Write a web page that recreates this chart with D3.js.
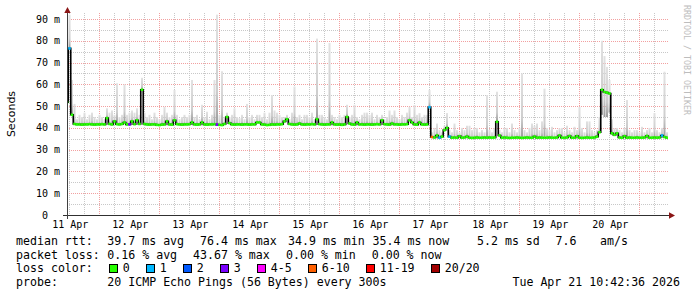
<!DOCTYPE html>
<html>
<head>
<meta charset="utf-8">
<title>Smokeping median rtt</title>
<script src="https://d3js.org/d3.v7.min.js"></script>
<style>
  body { margin: 0; background: #fff; }
  text { font-family: "DejaVu Sans Mono", monospace; fill: #000; }
</style>
</head>
<body>
<div id="main"></div>
<script>
// one sample per hour, first sample at t0
const t0 = new Date(2026, 3, 10, 23, 5)
const hoursShown = 240.4

// median rtt in ms, hourly
const median = [
  51.8, 76.5, 46.0, 41.8, 41.6, 41.6, 41.5, 41.6, 41.6, 41.7, 41.6, 41.5, 41.6, 41.6, 41.7, 41.6, 44.5, 41.8, 41.6, 43.0, 41.7, 41.6, 41.8, 42.5,
  41.6, 41.6, 43.0, 41.7, 43.5, 41.8, 57.5, 41.8, 41.6, 41.5, 41.6, 41.6, 41.4, 41.3, 41.5, 41.6, 43.0, 41.6, 41.5, 43.5, 41.7, 41.6, 41.5, 41.6,
  41.6, 41.7, 42.5, 41.6, 41.5, 41.6, 42.5, 41.6, 41.5, 41.6, 41.6, 41.7, 41.5, 41.4, 41.3, 41.8, 45.0, 42.2, 41.6, 41.5, 41.6, 41.6, 41.5, 41.6,
  41.6, 41.5, 41.6, 41.6, 42.5, 42.5, 41.6, 41.5, 41.3, 41.4, 41.6, 41.5, 41.6, 41.6, 41.7, 43.0, 44.0, 41.8, 41.6, 41.5, 41.6, 42.0, 41.6, 41.5,
  41.6, 41.6, 41.7, 41.6, 44.0, 41.7, 41.6, 41.5, 41.6, 41.6, 42.5, 41.6, 41.5, 41.6, 41.4, 41.6, 45.0, 42.0, 41.6, 41.5, 42.5, 41.6, 41.6, 41.5,
  41.6, 41.6, 41.5, 41.6, 41.7, 41.6, 43.5, 41.7, 41.6, 41.5, 42.0, 41.6, 41.6, 41.5, 41.6, 41.6, 41.7, 43.5, 42.5, 41.6, 41.5, 42.5, 41.6, 41.5,
  41.6, 49.5, 35.8, 35.6, 36.5, 35.5, 36.0, 39.0, 40.0, 36.0, 35.5, 35.6, 35.5, 36.2, 35.5, 35.6, 36.0, 35.5, 35.4, 35.5, 35.6, 35.5, 35.5, 35.6,
  35.5, 35.6, 35.5, 35.6, 42.8, 36.5, 35.5, 35.6, 35.5, 35.4, 35.5, 35.5, 35.6, 35.5, 35.4, 35.5, 35.6, 35.5, 35.5, 36.0, 35.5, 35.6, 35.5, 35.5,
  35.5, 35.6, 35.5, 35.5, 35.6, 36.5, 35.5, 35.5, 35.6, 36.3, 35.5, 35.5, 36.2, 35.5, 35.4, 35.5, 35.6, 35.5, 35.5, 35.6, 36.0, 38.0, 57.5, 56.5,
  56.2, 55.8, 37.5, 36.8, 37.5, 35.6, 35.5, 36.2, 35.5, 35.6, 35.5, 35.5, 35.6, 35.5, 35.5, 35.6, 36.3, 35.5, 35.5, 35.6, 35.5, 35.6, 36.5, 35.8,
  35.5
]

// slowest ping of each hour (top of the smoke), ms
const smokeTop = [
  85, 92, 62, 51, 44, 46, 45, 47, 44, 46, 47, 45, 44, 46, 45, 44, 49, 47, 48, 46, 60.5, 45, 46, 60,
  46, 47, 48, 47, 49, 46, 63, 47, 45, 46, 44, 47, 45, 44, 46, 49.7, 47, 45, 46, 57.4, 46, 44, 45, 46,
  45, 46, 62, 45, 46, 44, 50.6, 45, 47.4, 44, 46, 62, 92, 46, 66, 45, 47, 45, 46, 49, 45, 44.5, 46, 44,
  51, 45, 46, 44, 46, 46, 45, 47, 44, 47, 55, 48, 47, 46, 45, 45, 46, 44, 47, 59, 45, 46, 44, 46,
  46, 45, 47, 44, 81, 46, 46, 45, 44, 79, 46, 45, 44, 46, 45, 46, 50.6, 45, 46, 50.6, 45, 44, 46, 47,
  47, 46, 47, 44, 46, 45, 46, 44, 45, 48, 46, 48, 45, 44, 46, 45, 47, 49.7, 45, 50.5, 46, 46.8, 45, 46,
  46, 57.4, 38, 40, 42, 39, 38, 41, 46.8, 39, 38, 42, 39, 38, 40, 39, 41, 41, 39, 40, 40, 38, 39, 38,
  55, 39, 38, 40, 56.6, 39, 38, 40, 40, 38, 42, 39, 38, 40, 65, 39, 38, 40, 42, 41, 42, 39, 43, 58,
  40, 39, 40.5, 38, 39, 39.8, 40, 38, 41, 39, 38, 40.5, 39, 49.7, 40, 38, 43, 43, 39, 38, 39, 45, 80, 73,
  68, 62, 44, 39.8, 40, 39, 38, 40, 52.8, 39, 38, 39, 39, 38, 40.5, 38, 39, 40, 38, 46.8, 39, 38, 40, 65.8,
  38
]

// hours where the fastest ping sat well below the median: [hour, ms]
const smokeLow = [[214, 46], [215, 45], [216, 45], [217, 47]]

// hours with lost pings: [hour, pings lost of 20]
const lossEvents = [[1, 1], [25, 3], [60, 3], [145, 1], [146, 8], [149, 1], [153, 1], [238, 1]]

const lossBins = [1, 2, 3, 4, 6, 11, 20]
const lossLabels = ['0', '1', '2', '3', '4-5', '6-10', '11-19', '20/20']
const lossColours = ['#26ff00', '#00b8ff', '#0059ff', '#7a00ff', '#ff00ff', '#ff6000', '#ff0000', '#a10000']

const yTicks = [0, 10, 20, 30, 40, 50, 60, 70, 80, 90]
const yMinor = [5, 15, 25, 35, 45, 55, 65, 75, 85]

const rttRow = [['median rtt:', 16], ['39.7 ms avg', 107.3], ['76.4 ms max', 200], ['34.9 ms min', 288],
                ['35.4 ms now', 372.5], ['5.2 ms sd', 477], ['7.6', 555.5], ['am/s', 600]]
const lossRow = [['packet loss:', 16], ['0.16 % avg', 107.3], ['43.67 % max', 193], ['0.00 % min', 286],
                 ['0.00 % now', 371.7]]
const probeText = '20 ICMP Echo Pings (56 Bytes) every 300s'
const dateText = 'Tue Apr 21 10:42:36 2026'

const W = 697, H = 297
const plotL = 67, plotR = 668, plotT = 13, plotB = 215
const charW = 7.0

const svg = d3.select('#main').append('svg')
  .attr('width', W).attr('height', H)
  .style('display', 'block')

svg.append('rect').attr('width', W).attr('height', H).attr('fill', '#fff')

const tEnd = d3.timeMinute.offset(t0, Math.round(hoursShown * 60))
const x = d3.scaleTime().domain([t0, tEnd]).range([plotL, plotR])
const y = d3.scaleLinear().domain([0, 90]).range([plotB, 19.0])
const hourAt = i => d3.timeHour.offset(t0, i)
const px = v => Math.round(v) + 0.5

const lossColour = d3.scaleThreshold().domain(lossBins).range(lossColours)
const lossByHour = new Map(lossEvents)
const lowByHour = new Map(smokeLow)

const defs = svg.append('defs')
defs.append('clipPath').attr('id', 'plot')
  .append('rect').attr('x', plotL).attr('y', plotT).attr('width', plotR - plotL).attr('height', plotB - plotT)

const grad = defs.append('linearGradient').attr('id', 'smoke')
  .attr('x1', 0).attr('y1', 0).attr('x2', 0).attr('y2', 1)
grad.append('stop').attr('offset', '0%').attr('stop-color', '#e2e2e2')
grad.append('stop').attr('offset', '70%').attr('stop-color', '#cdcdcd')
grad.append('stop').attr('offset', '100%').attr('stop-color', '#9a9a9a')

// grid
const grid = svg.append('g').attr('shape-rendering', 'crispEdges').attr('stroke-width', 1)
  .attr('stroke-dasharray', '1,1')

const sixHours = d3.timeHour.every(6).range(d3.timeHour.ceil(t0), tEnd)
const noon = sixHours.filter(d => d.getHours() === 12)
const minorX = sixHours.filter(d => d.getHours() !== 12)

grid.selectAll('.ym').data(yMinor).enter().append('line')
  .attr('x1', plotL).attr('x2', plotR)
  .attr('y1', d => px(y(d))).attr('y2', d => px(y(d)))
  .attr('stroke', '#c8c8c8')
grid.selectAll('.xm').data(minorX).enter().append('line')
  .attr('y1', plotT).attr('y2', plotB)
  .attr('x1', d => px(x(d))).attr('x2', d => px(x(d)))
  .attr('stroke', '#c8c8c8')
grid.selectAll('.yM').data(yTicks.slice(1)).enter().append('line')
  .attr('x1', plotL).attr('x2', plotR)
  .attr('y1', d => px(y(d))).attr('y2', d => px(y(d)))
  .attr('stroke', '#f2a0a0')
grid.selectAll('.xM').data(noon).enter().append('line')
  .attr('y1', plotT).attr('y2', plotB)
  .attr('x1', d => px(x(d))).attr('x2', d => px(x(d)))
  .attr('stroke', '#f2a0a0')

// smoke and median
const plot = svg.append('g').attr('clip-path', 'url(#plot)')

const hours = median.map((v, i) => ({
  i, t: hourAt(i), med: v, hi: smokeTop[i],
  lo: lowByHour.has(i) ? lowByHour.get(i) : v,
  loss: lossByHour.get(i) || 0
}))

plot.selectAll('.smoke').data(hours).enter().append('rect')
  .attr('x', d => x(d.t) - 1)
  .attr('width', 2)
  .attr('y', d => y(d.hi))
  .attr('height', d => Math.max(0, y(d.lo) - y(d.hi)))
  .attr('fill', 'url(#smoke)')

const medLine = d3.line()
  .x(d => x(d.t))
  .y(d => y(d.med))
  .curve(d3.curveStep)

plot.append('path').datum(hours)
  .attr('d', medLine)
  .attr('fill', 'none')
  .attr('stroke', '#000')
  .attr('stroke-width', 1.6)

plot.selectAll('.med').data(hours).enter().append('line')
  .attr('x1', d => x(d3.timeMinute.offset(d.t, -31)))
  .attr('x2', d => x(d3.timeMinute.offset(d.t, 31)))
  .attr('y1', d => y(d.med)).attr('y2', d => y(d.med))
  .attr('stroke', d => lossColour(d.loss))
  .attr('stroke-width', 2.6)

// axes
const axis = svg.append('g').attr('shape-rendering', 'crispEdges')
axis.append('line').attr('x1', 63).attr('x2', 670).attr('y1', 215.5).attr('y2', 215.5)
  .attr('stroke', '#303030')
axis.append('line').attr('x1', 67.5).attr('x2', 67.5).attr('y1', 219).attr('y2', 11)
  .attr('stroke', '#404040')
svg.append('path').attr('d', 'M67.5,7 L64.3,13 L70.7,13 Z').attr('fill', '#8a1515')
svg.append('path').attr('d', 'M675,215.5 L669,212.3 L669,218.7 Z').attr('fill', '#8a1515')

svg.selectAll('.ylab').data(yTicks).enter().append('text')
  .attr('x', d => d ? 60 : 48)
  .attr('y', d => y(d))
  .attr('dy', '0.36em')
  .attr('text-anchor', 'end')
  .style('font-size', '10px')
  .text(d => d ? `${d} m` : '0')

const days = d3.timeDay.range(d3.timeDay.ceil(t0), tEnd)
const fmt = d3.timeFormat('%d %b')
svg.selectAll('.xlab').data(days).enter().append('text')
  .attr('x', d => x(d) + 1)
  .attr('y', 227.5)
  .attr('text-anchor', 'middle')
  .style('font-size', '10px')
  .text(d => fmt(d))

svg.append('text')
  .attr('transform', 'translate(14.5,114) rotate(-90)')
  .attr('text-anchor', 'middle')
  .style('font-family', '"DejaVu Sans", sans-serif')
  .style('font-size', '11px')
  .text('Seconds')

svg.append('text')
  .attr('transform', 'translate(684,5) rotate(90)')
  .style('font-size', '8.3px')
  .style('fill', '#bdbdbd')
  .text('RRDTOOL / TOBI OETIKER')

// legend
const legend = svg.append('g').style('font-size', '11.6px')
legend.selectAll('.rtt').data(rttRow).enter().append('text')
  .attr('x', d => d[1]).attr('y', 245.3).text(d => d[0])
legend.selectAll('.loss').data(lossRow).enter().append('text')
  .attr('x', d => d[1]).attr('y', 258.8).text(d => d[0])
legend.append('text').attr('x', 16).attr('y', 272.3).text('loss color:')
legend.append('text').attr('x', 16).attr('y', 286.3).text('probe:')
legend.append('text').attr('x', 107.3).attr('y', 286.3).text(probeText)
legend.append('text').attr('x', 680).attr('y', 286.3).attr('text-anchor', 'end').text(dateText)

let bx = 108.7
const boxes = lossLabels.map((label, k) => {
  const item = { label, colour: lossColours[k], bx }
  bx += 14 + label.length * charW + 16
  return item
})
const items = legend.selectAll('.box').data(boxes).enter().append('g')
items.append('rect')
  .attr('x', d => Math.round(d.bx) + 0.5).attr('y', 264.5)
  .attr('width', 8).attr('height', 8)
  .attr('fill', d => d.colour)
  .attr('stroke', '#000').attr('stroke-width', 1)
  .attr('shape-rendering', 'crispEdges')
items.append('text')
  .attr('x', d => d.bx + 14).attr('y', 272.3)
  .text(d => d.label)
</script>
</body>
</html>
